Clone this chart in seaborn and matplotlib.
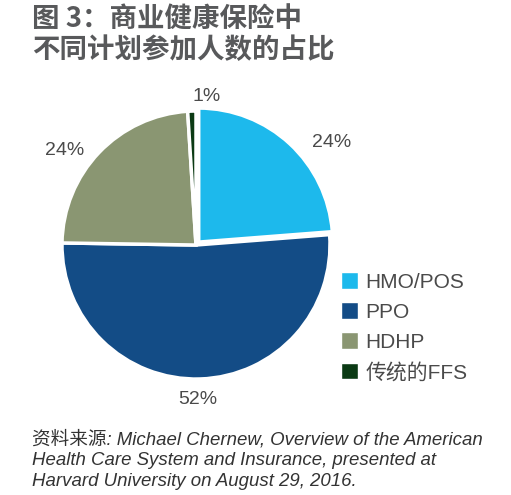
import numpy as np
import matplotlib
matplotlib.use("Agg")
import matplotlib.pyplot as plt
import seaborn as sns

categories = ["HMO/POS", "PPO", "HDHP", "传统的FFS"]
values = [24, 52, 24, 1]
pct_labels = ["24%", "52%", "24%", "1%"]
title_text = "图 3：商业健康保险中\n不同计划参加人数的占比"
source_text = ("资料来源: Michael Chernew, Overview of the American\n"
               "Health Care System and Insurance, presented at\n"
               "Harvard University on August 29, 2016.")

sns.set_theme(style="white")
plt.rcParams['font.family'] = ['Liberation Sans', 'Noto Sans CJK SC', 'DejaVu Sans']
colors = sns.color_palette(["#1DB9EC", "#134C86", "#8A9672", "#0B3A14"])

fig = plt.figure(figsize=(5.11, 4.95), dpi=100)
fig.patch.set_facecolor("white")

ax = fig.add_axes([0.1213, 0.2343, 0.5245, 0.5414])
wedges, _ = ax.pie(values, colors=colors, startangle=90, counterclock=False,
                   explode=[0.03, 0.0, 0.0, 0.0], radius=1.0,
                   wedgeprops=dict(edgecolor="white", linewidth=2.5))
ax.set_xlim(-1, 1)
ax.set_ylim(-1, 1)
ax.set_aspect("equal")
ax.axis("off")
for w in wedges:
    w.set_clip_on(False)

label_dist = [1.27, 1.15, 1.21, 1.11]
label_shift = [-10, -1, 8, -6]
for w, lab, d, s in zip(wedges, pct_labels, label_dist, label_shift):
    mid = np.deg2rad((w.theta1 + w.theta2) / 2 + s)
    ax.text(d * np.cos(mid), d * np.sin(mid), lab, ha="center", va="center",
            fontsize=14, color="#4a4a4a", clip_on=False)

fig.text(0.063, 0.99, title_text, ha="left", va="top", fontsize=19.8,
         fontweight="bold", color="#58595B",
         family=['Noto Sans CJK SC', 'DejaVu Sans'], linespacing=1.12)

handles = [plt.Rectangle((0, 0), 1, 1, facecolor=c) for c in colors]
leg = fig.legend(handles, categories, loc="upper left",
                 bbox_to_anchor=(0.638, 0.479), frameon=False,
                 handlelength=0.85, handleheight=0.85, handletextpad=0.35,
                 labelspacing=0.5, fontsize=15, borderaxespad=0.3)
for t in leg.get_texts():
    t.set_color("#4a4a4a")

fig.text(0.063, 0.132, source_text, ha="left", va="top", fontsize=13.4,
         style="italic", color="#333333", linespacing=1.3)

fig.savefig("out.png", dpi=100, facecolor="white")
